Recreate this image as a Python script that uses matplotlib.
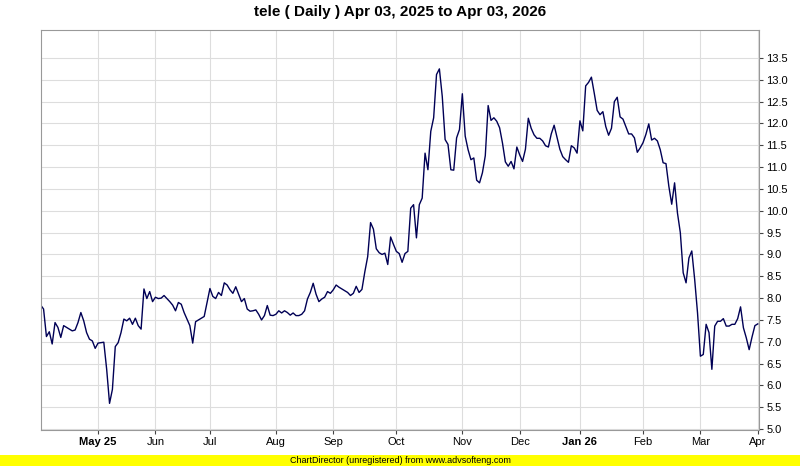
import matplotlib
matplotlib.use("Agg")
import matplotlib.pyplot as plt
import numpy as np

plt.rcParams["font.family"] = ["Liberation Sans", "DejaVu Sans"]

# daily closes, one per trading day (Apr 03, 2025 .. Apr 02, 2026)
closes = [
    7.84, 7.75, 7.12, 7.23, 6.95, 7.44, 7.33, 7.10, 7.37, 7.33,
    7.29, 7.25, 7.27, 7.44, 7.67, 7.48, 7.21, 7.06, 7.02, 6.85,
    6.97, 6.98, 6.99, 6.37, 5.59, 5.91, 6.89, 6.98, 7.21, 7.52,
    7.48, 7.54, 7.40, 7.54, 7.37, 7.29, 8.21, 7.99, 8.15, 7.92,
    8.02, 7.99, 8.00, 8.06, 7.99, 7.92, 7.84, 7.71, 7.90, 7.86,
    7.67, 7.52, 7.37, 6.97, 7.46, 7.50, 7.54, 7.58, 7.90, 8.22,
    8.04, 7.99, 8.13, 8.06, 8.35, 8.30, 8.19, 8.11, 8.26, 8.09,
    7.92, 7.99, 7.75, 7.70, 7.71, 7.73, 7.63, 7.50, 7.60, 7.83,
    7.61, 7.60, 7.63, 7.71, 7.66, 7.71, 7.67, 7.61, 7.66, 7.60,
    7.60, 7.63, 7.71, 7.98, 8.13, 8.34, 8.09, 7.92, 7.98, 8.02,
    8.15, 8.11, 8.19, 8.30, 8.25, 8.21, 8.17, 8.13, 8.06, 8.11,
    8.27, 8.13, 8.20, 8.60, 8.95, 9.73, 9.58, 9.13, 9.04, 9.00,
    9.03, 8.77, 9.40, 9.23, 9.07, 9.02, 8.82, 9.02, 9.07, 10.06,
    10.14, 9.38, 10.14, 10.29, 11.32, 10.94, 11.82, 12.13, 13.12, 13.25,
    12.62, 11.63, 11.52, 10.94, 10.93, 11.67, 11.86, 12.68, 11.71, 11.40,
    11.17, 11.21, 10.70, 10.64, 10.87, 11.26, 12.41, 12.07, 12.13, 12.05,
    11.90, 11.55, 11.12, 11.02, 11.13, 10.96, 11.46, 11.28, 11.13, 11.41,
    12.12, 11.89, 11.74, 11.66, 11.66, 11.60, 11.49, 11.46, 11.76, 11.96,
    11.69, 11.41, 11.24, 11.17, 11.11, 11.49, 11.44, 11.32, 12.06, 11.83,
    12.86, 12.94, 13.06, 12.69, 12.30, 12.20, 12.27, 11.93, 11.73, 11.89,
    12.50, 12.60, 12.15, 12.10, 11.93, 11.76, 11.76, 11.67, 11.34, 11.44,
    11.56, 11.75, 11.99, 11.62, 11.66, 11.60, 11.40, 11.10, 11.08, 10.56,
    10.15, 10.64, 9.95, 9.50, 8.58, 8.35, 8.92, 9.08, 8.43, 7.66,
    6.67, 6.71, 7.40, 7.21, 6.37, 7.36, 7.47, 7.47, 7.53, 7.36,
    7.36, 7.40, 7.40, 7.53, 7.80, 7.32, 7.09, 6.82, 7.11, 7.37,
    7.41,
]

# trading-day index of the first session of each month
month_starts = [20, 40, 59, 82, 102, 124, 147, 167, 188, 210, 230, 250]
month_labels = ["May 25", "Jun", "Jul", "Aug", "Sep", "Oct", "Nov", "Dec",
                "Jan 26", "Feb", "Mar", "Apr"]
year_labels = {"May 25", "Jan 26"}

y_ticks = np.arange(5.0, 13.51, 0.5)

fig = plt.figure(figsize=(8, 4.66), dpi=100)
ax = fig.add_axes([40.7 / 800, 36 / 466, 718.5 / 800, 400 / 466])

days = np.arange(len(closes))
ax.plot(days, closes, color="#000055", linewidth=1.0)

ax.set_xlim(0, len(closes) - 1 + 0.5)
ax.set_ylim(4.98, 14.14)

ax.set_yticks(y_ticks)
ax.set_yticklabels([f"{v:.1f}" for v in y_ticks])
ax.yaxis.tick_right()
ax.set_xticks(month_starts)
ax.set_xticklabels(month_labels)
for lbl in ax.get_xticklabels():
    if lbl.get_text() in year_labels:
        lbl.set_fontweight("bold")

ax.tick_params(axis="both", labelsize=8, length=3, width=0.8, color="#444444",
               labelcolor="#000000", direction="out", pad=2)
ax.grid(True, color="#dddddd", linewidth=0.8)
ax.set_axisbelow(True)
for side in ["top", "left", "bottom", "right"]:
    ax.spines[side].set_color("#999999")
    ax.spines[side].set_linewidth(0.8)

fig.text(0.5, 1 - 12 / 466, "tele ( Daily ) Apr 03, 2025 to Apr 03, 2026",
         ha="center", va="center", fontsize=11, fontweight="bold")

# unregistered banner at the bottom
fig.patches.append(plt.Rectangle((0, 0), 1, 11 / 466, transform=fig.transFigure,
                                 facecolor="#ffff00", edgecolor="none"))
fig.text(0.5, 5.5 / 466, "ChartDirector (unregistered) from www.advsofteng.com",
         ha="center", va="center", fontsize=6.5, color="#000000")

fig.savefig("out.png", dpi=100)
